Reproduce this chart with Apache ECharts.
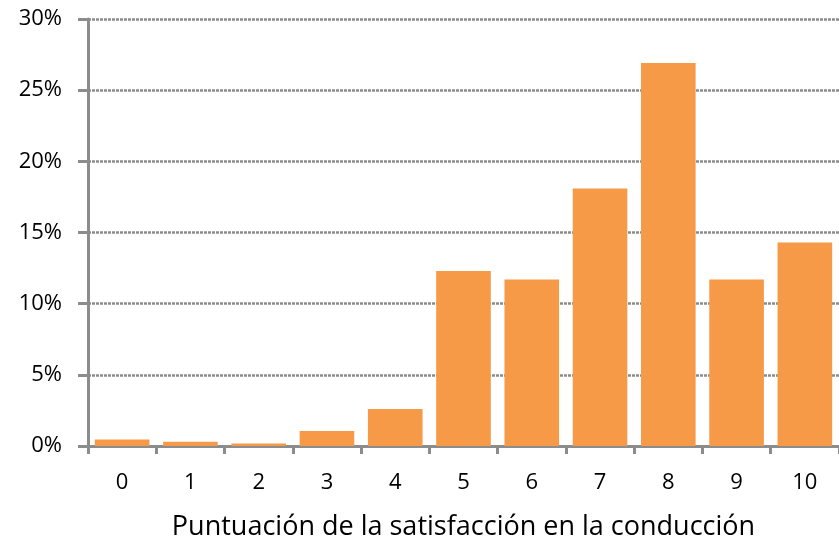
<!DOCTYPE html>
<html>
<head>
<meta charset="utf-8">
<script src="https://cdn.jsdelivr.net/npm/echarts@6/dist/echarts.min.js"></script>
<style>
  html, body { margin: 0; padding: 0; background: #fff; }
  #chart { width: 839px; height: 539px; }
</style>
</head>
<body>
<div id="chart"></div>
<script>
// scores 0..10 and share of respondents (%)
var categories = ['0', '1', '2', '3', '4', '5', '6', '7', '8', '9', '10'];
var shares = [0.45, 0.3, 0.17, 1.05, 2.6, 12.3, 11.7, 18.1, 26.9, 11.7, 14.3];
var xTitle = 'Puntuación de la satisfacción en la conducción';

var myChart = echarts.init(document.getElementById('chart'));
myChart.setOption({
  animation: false,
  grid: { left: 88, top: 19, right: 0, bottom: 93, outerBoundsMode: 'none' },
  xAxis: {
    type: 'category',
    data: categories,
    name: xTitle,
    nameLocation: 'middle',
    nameGap: 68,
    nameTextStyle: { fontFamily: 'Open Sans', fontSize: 27, color: '#000' },
    axisLine: { lineStyle: { color: '#8c8c8c', width: 3 } },
    axisTick: { show: true, alignWithLabel: false, length: 8, lineStyle: { color: '#8c8c8c', width: 3 } },
    axisLabel: { fontFamily: 'Open Sans', fontSize: 22, color: '#000', margin: 26 }
  },
  yAxis: {
    type: 'value',
    min: 0,
    max: 30,
    interval: 5,
    axisLine: { show: true, lineStyle: { color: '#8c8c8c', width: 3 } },
    axisTick: { show: true, length: 10, lineStyle: { color: '#8c8c8c', width: 3 } },
    axisLabel: { formatter: '{value}%', fontFamily: 'Open Sans', fontSize: 22, color: '#000', margin: 26 },
    splitLine: { lineStyle: { color: '#8c8c8c', width: 2.5, type: [3, 1] } }
  },
  series: [
    {
      type: 'bar',
      data: shares,
      barCategoryGap: '20%',
      itemStyle: { color: '#f79a48' }
    }
  ]
});
</script>
</body>
</html>
